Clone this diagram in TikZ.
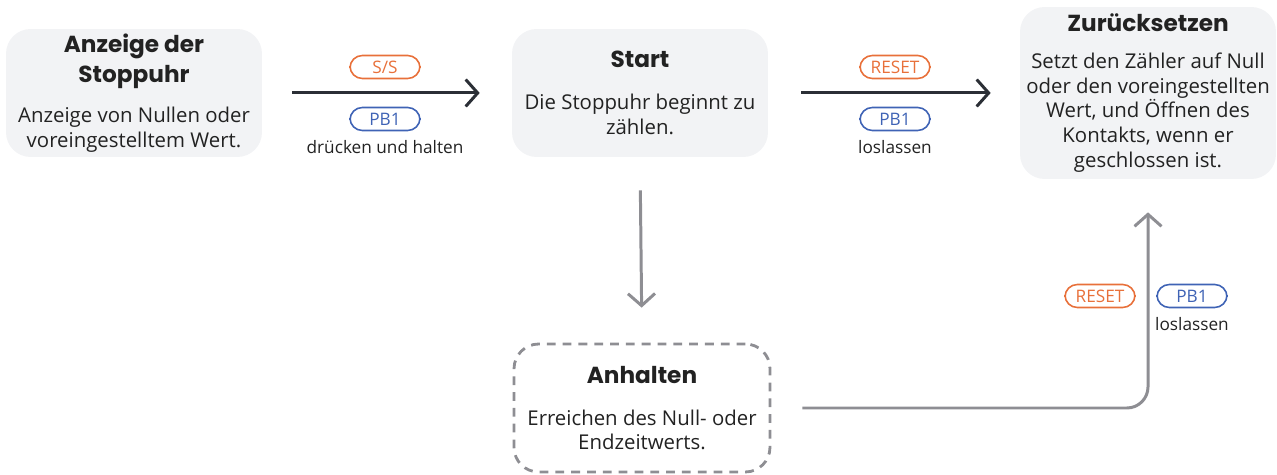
\documentclass[tikz,border=0pt]{standalone}
\usepackage{fontspec}
\setmainfont{Open Sans}
\newfontfamily\headfont{Poppins}
\usetikzlibrary{calc, positioning}
\usetikzlibrary{arrows.meta}

\definecolor{boxfill}{HTML}{F2F3F5}
\definecolor{inkdark}{HTML}{2B2F36}
\definecolor{inkgray}{HTML}{8E8E93}
\definecolor{pillorange}{HTML}{E8703A}
\definecolor{pillblue}{HTML}{3F63B5}
\definecolor{textdark}{HTML}{222222}

\tikzset{
  stagebox/.style={rounded corners=14, align=center, text=textdark,
    minimum width=5.12cm, minimum height=2.56cm, inner sep=0pt, font=\fontsize{11.6}{14}\selectfont},
  stagefill/.style={stagebox, fill=boxfill},
  stagedash/.style={stagebox, draw=inkgray, line width=1.6pt, dash pattern=on 5pt off 4pt},
  pill/.style={draw, rounded corners=7, line width=0.9pt, minimum width=1.4cm,
    minimum height=0.46cm, inner sep=0pt, font=\fontsize{9.8}{11}\selectfont},
  pilltext/.style={font=\fontsize{9.8}{11}\selectfont, text=textdark, inner sep=0pt},
  flow/.style={-{Straight Barb[length=2.4mm, width=5.4mm]}, line width=1.7pt, inkdark},
  flowgray/.style={-{Straight Barb[length=2.4mm, width=5.4mm]}, line width=1.7pt, inkgray},
}
\newcommand{\boxtitle}[1]{{\headfont\bfseries\fontsize{13.2}{16}\selectfont #1}}

\begin{document}
\begin{tikzpicture}[x=0.02cm, y=-0.02cm]
\useasboundingbox (0,0) rectangle (1277,475);

\node[stagefill] (anzeige) at (134,93) {\boxtitle{Anzeige der}\\[3pt]\boxtitle{Stoppuhr}\\[9pt]Anzeige von Nullen oder\\voreingestelltem Wert.};
\node[stagefill] (start) at (640,93) {\boxtitle{Start}\\[10pt]Die Stoppuhr beginnt zu\\zählen.};
\node[stagefill, minimum height=3.44cm] (reset) at (1148,93) {\boxtitle{Zurücksetzen}\\[7pt]Setzt den Zähler auf Null\\oder den voreingestellten\\Wert, und Öffnen des\\Kontakts, wenn er\\geschlossen ist.};
\node[stagedash] (anhalten) at (642,408) {\boxtitle{Anhalten}\\[10pt]Erreichen des Null- oder\\Endzeitwerts.};

% connectors
\draw[flow, shorten <=0.6cm, shorten >=0.64cm] (anzeige) -- (start);
\draw[flow, shorten <=0.66cm, shorten >=0.58cm] (start) -- (reset);
\draw[flowgray, shorten <=0.66cm, shorten >=0.7cm] (start.south) -- (anhalten.north);
\draw[flowgray, rounded corners=12, shorten <=0.62cm, shorten >=0.66cm] (anhalten.east) -| (reset.south);

% labels
\node[pill, draw=pillorange, text=pillorange] (ss) at (385,67) {S/S};
\node[pill, draw=pillblue, text=pillblue] (pbone) at (385,119) {PB1};
\node[pilltext] (halten) at (385,147) {drücken und halten};

\node[pill, draw=pillorange, text=pillorange] (resetone) at (895,67) {RESET};
\node[pill, draw=pillblue, text=pillblue] (pbtwo) at (895,119) {PB1};
\node[pilltext] (losone) at (895,147) {loslassen};

\node[pill, draw=pillorange, text=pillorange] (resettwo) at (1100,296) {RESET};
\node[pill, draw=pillblue, text=pillblue] (pbthree) at (1192,296) {PB1};
\node[pilltext] (lostwo) at (1192,324) {loslassen};
\end{tikzpicture}
\end{document}
